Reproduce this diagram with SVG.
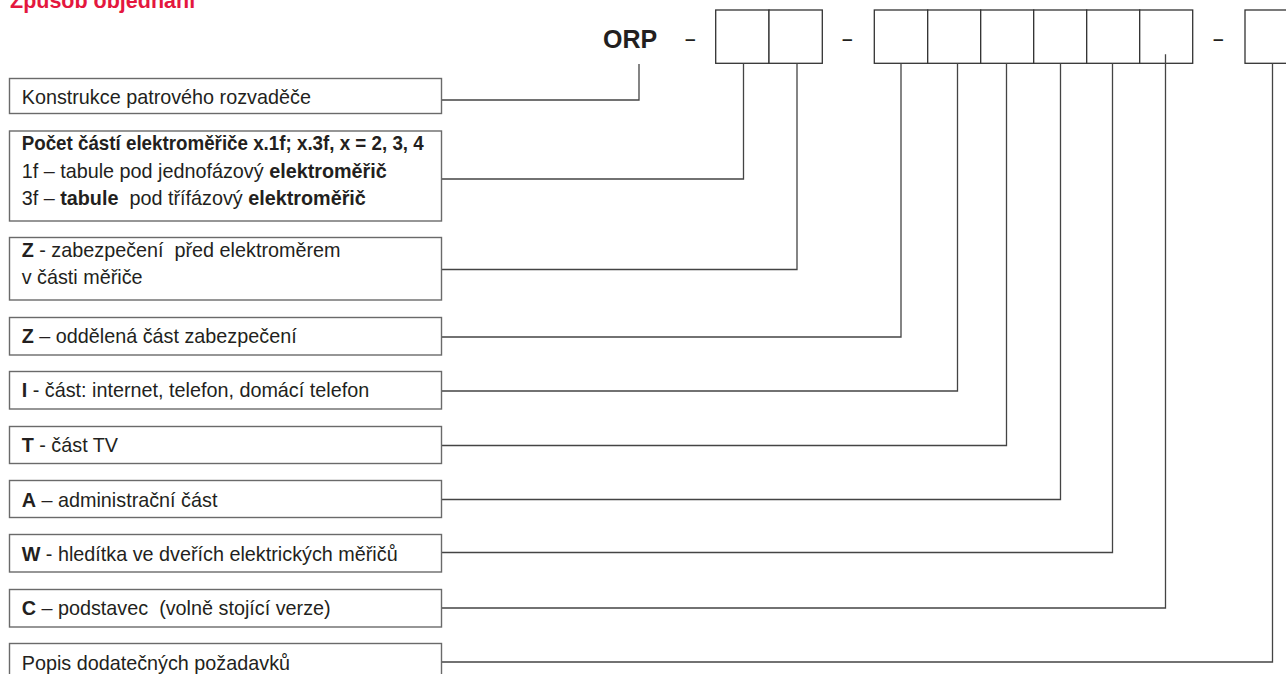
<svg xmlns="http://www.w3.org/2000/svg" width="1286" height="674" viewBox="0 0 1286 674">
<style>
  .lbl { font-family: "Liberation Sans", Arial, sans-serif; font-size: 19.8px; fill: #231f20; white-space: pre; }
  .b { font-weight: bold; }
  .box { fill: #ffffff; stroke: #6a6a6a; stroke-width: 1.4; }
  .cell { fill: #ffffff; stroke: #333333; stroke-width: 1.3; }
  .conn { fill: none; stroke: #444444; stroke-width: 1.3; }
  .dash { font-family: "Liberation Sans", Arial, sans-serif; font-size: 19px; font-weight: bold; fill: #231f20; }
</style>
<rect width="1286" height="674" fill="#ffffff"/>

<g id="title">
  <text x="10" y="8" font-family="Liberation Sans, Arial, sans-serif" font-size="21.5" font-weight="bold" fill="#e4173e">Způsob objednání</text>
</g>

<g id="code">
  <text x="603" y="48" font-family="Liberation Sans, Arial, sans-serif" font-size="25" font-weight="bold" fill="#231f20">ORP</text>
  <text class="dash" x="685" y="45">–</text>
  <text class="dash" x="842" y="45">–</text>
  <text class="dash" x="1213" y="45">–</text>
</g>

<g id="cells-1">
  <rect class="cell" x="715.7" y="10" width="53.3" height="53.3"/>
  <rect class="cell" x="769" y="10" width="53.3" height="53.3"/>
</g>
<g id="cells-2">
  <rect class="cell" x="874.3" y="10" width="53.4" height="53.3"/>
  <rect class="cell" x="927.7" y="10" width="53" height="53.3"/>
  <rect class="cell" x="980.7" y="10" width="53" height="53.3"/>
  <rect class="cell" x="1033.7" y="10" width="53" height="53.3"/>
  <rect class="cell" x="1086.7" y="10" width="53" height="53.3"/>
  <rect class="cell" x="1139.7" y="10" width="53" height="53.3"/>
</g>
<g id="cells-3">
  <rect class="cell" x="1245" y="10" width="60" height="53.3"/>
</g>

<g id="connectors">
  <path class="conn" d="M639,64 V100 H441.5"/>
  <path class="conn" d="M743.5,63.3 V179 H441.5"/>
  <path class="conn" d="M797,63.3 V269.5 H441.5"/>
  <path class="conn" d="M901,63.3 V337 H441.5"/>
  <path class="conn" d="M957.5,63.3 V391 H441.5"/>
  <path class="conn" d="M1006.5,63.3 V445.5 H441.5"/>
  <path class="conn" d="M1060.5,63.3 V499.5 H441.5"/>
  <path class="conn" d="M1112.5,63.3 V552.5 H441.5"/>
  <path class="conn" d="M1165.5,54.3 V608 H441.5"/>
  <path class="conn" d="M1272.5,63.3 V662 H441.5"/>
</g>

<g id="n1">
  <rect class="box" x="9.5" y="78.5" width="432" height="35"/>
  <text class="lbl" x="21.7" y="103.5">Konstrukce patrového rozvaděče</text>
</g>
<g id="n2">
  <rect class="box" x="9.5" y="131" width="432" height="90"/>
  <text class="lbl b" x="21.7" y="150" textLength="402" lengthAdjust="spacingAndGlyphs">Počet částí elektroměřiče x.1f; x.3f, x = 2, 3, 4</text>
  <text class="lbl" x="21.7" y="177.5">1f – tabule pod jednofázový <tspan class="b">elektroměřič</tspan></text>
  <text class="lbl" x="21.7" y="205">3f – <tspan class="b">tabule</tspan>  pod třífázový <tspan class="b">elektroměřič</tspan></text>
</g>
<g id="n3">
  <rect class="box" x="9.5" y="237.5" width="432" height="62.5"/>
  <text class="lbl" x="21.7" y="256.5"><tspan class="b">Z</tspan> - zabezpečení  před elektroměrem</text>
  <text class="lbl" x="21.7" y="283.5">v části měřiče</text>
</g>
<g id="n4">
  <rect class="box" x="9.5" y="317.5" width="432" height="37.5"/>
  <text class="lbl" x="21.7" y="343"><tspan class="b">Z</tspan> – oddělená část zabezpečení</text>
</g>
<g id="n5">
  <rect class="box" x="9.5" y="371.5" width="432" height="37.5"/>
  <text class="lbl" x="21.7" y="397"><tspan class="b">I</tspan> - část: internet, telefon, domácí telefon</text>
</g>
<g id="n6">
  <rect class="box" x="9.5" y="426.5" width="432" height="37"/>
  <text class="lbl" x="21.7" y="452"><tspan class="b">T</tspan> - část TV</text>
</g>
<g id="n7">
  <rect class="box" x="9.5" y="480.5" width="432" height="37"/>
  <text class="lbl" x="21.7" y="506.5"><tspan class="b">A</tspan> – administrační část</text>
</g>
<g id="n8">
  <rect class="box" x="9.5" y="534.5" width="432" height="37.5"/>
  <text class="lbl" x="21.7" y="560.5"><tspan class="b">W</tspan> - hledítka ve dveřích elektrických měřičů</text>
</g>
<g id="n9">
  <rect class="box" x="9.5" y="589.5" width="432" height="37.5"/>
  <text class="lbl" x="21.7" y="615"><tspan class="b">C</tspan> – podstavec  (volně stojící verze)</text>
</g>
<g id="n10">
  <rect class="box" x="9.5" y="643.5" width="432" height="40"/>
  <text class="lbl" x="21.7" y="669.5">Popis dodatečných požadavků</text>
</g>
</svg>
